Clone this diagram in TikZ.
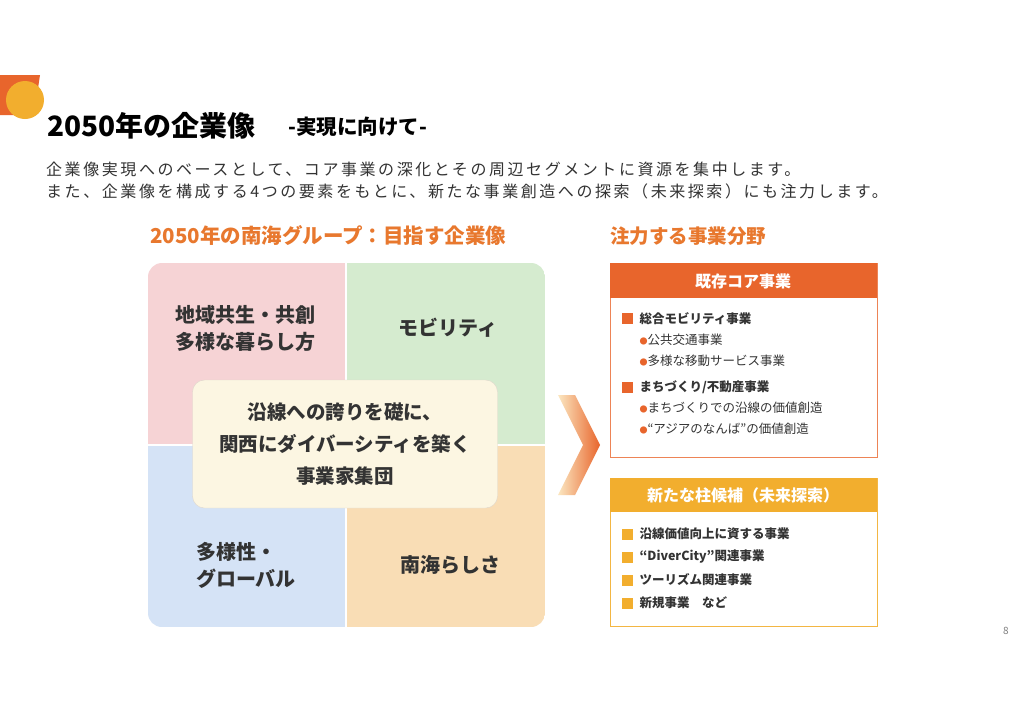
\documentclass[tikz,border=0pt]{standalone}
\usepackage{fontspec}
\setmainfont{Noto Sans CJK JP}
\newfontfamily\cjk{Noto Sans CJK JP}
\usetikzlibrary{shadings}
\definecolor{pk}{HTML}{F6D3D5}
\definecolor{gr}{HTML}{D5EBCF}
\definecolor{bl}{HTML}{D5E3F6}
\definecolor{pe}{HTML}{F9DDB5}
\definecolor{cr}{HTML}{FCF6E2}
\definecolor{or}{HTML}{E8652C}
\definecolor{ye}{HTML}{F2AE2E}
\definecolor{ti}{HTML}{E8782E}
\definecolor{tx}{HTML}{333333}
\tikzset{quad/.style={font=\bfseries\fontsize{20}{27}\selectfont,text=tx,align=center},
 item/.style={anchor=west,font=\fontsize{12.5}{14}\selectfont,text=tx},
 itemb/.style={item,font=\bfseries\fontsize{12.5}{14}\selectfont},
 head/.style={font=\bfseries\fontsize{16}{18}\selectfont,text=white}}
\begin{document}
\begin{tikzpicture}[x=1pt,y=-1pt]
\useasboundingbox (0,0) rectangle (1024,726);
\fill[white] (0,0) rectangle (1024,726);
% logo
\fill[or] (0,75) -- (40,75) -- (34,115) -- (0,115) -- cycle;
\fill[ye] (25,100) circle (19);
\node[anchor=west,font=\bfseries\fontsize{28}{28}\selectfont,inner sep=0] (t1) at (47,126) {2050年の企業像};
\node[anchor=west,font=\bfseries\fontsize{20.5}{20}\selectfont,inner sep=0] (t2) at (288,127) {-実現に向けて-};
\node[anchor=west,font=\fontsize{16}{22}\selectfont\addfontfeature{LetterSpace=16}\selectfont,align=left,text=tx,inner sep=0] (intro) at (46,181) {企業像実現へのベースとして、コア事業の深化とその周辺セグメントに資源を集中します。\\また、企業像を構成する4つの要素をもとに、新たな事業創造への探索（未来探索）にも注力します。};
\node[anchor=west,font=\bfseries\fontsize{20.5}{20}\selectfont,text=ti,inner sep=0] (h1) at (150,236) {2050年の南海グループ：目指す企業像};
\node[anchor=west,font=\bfseries\fontsize{19.5}{20}\selectfont,text=ti,inner sep=0] (h2) at (610,236) {注力する事業分野};
% quadrants
\begin{scope}
\clip[rounded corners=14] (148,263) rectangle (545,627);
\fill[pk] (148,263) rectangle (346,445);
\fill[gr] (346,263) rectangle (545,445);
\fill[bl] (148,445) rectangle (346,627);
\fill[pe] (346,445) rectangle (545,627);
\end{scope}
\draw[white,line width=2] (346,263) -- (346,627) (148,445) -- (545,445);
\node[quad,align=left] (q1) at (245,328) {地域共生・共創\\多様な暮らし方};
\node[quad] (q2) at (448,328) {モビリティ};
\node[quad,align=left] (q3) at (246,565) {多様性・\\グローバル};
\node[quad] (q4) at (450,565) {南海らしさ};
\node[draw=pe!70!black!40,fill=cr,rounded corners=12,minimum width=305,minimum height=128,quad,font=\bfseries\fontsize{19.5}{32}\selectfont] (c) at (345,444) {沿線への誇りを礎に、\\関西にダイバーシティを築く\\事業家集団};
% chevron
\shade[left color=ye!30,right color=or] (558,395) -- (575,395) -- (600,445) -- (575,495) -- (558,495) -- (583,445) -- cycle;
% box 1
\draw[or!80,fill=white] (610,263) rectangle (877,457);
\fill[or] (610,263) rectangle (877,298);
\node[head] (b1) at (743,281) {既存コア事業};
\fill[or] (622,313) rectangle (633,324);
\node[itemb] (i1) at (636,318.5) {総合モビリティ事業};
\node[item] (i2) at (636,340) {\textcolor{or}{\fontsize{8}{8}\selectfont●}公共交通事業};
\node[item] (i3) at (636,361) {\textcolor{or}{\fontsize{8}{8}\selectfont●}多様な移動サービス事業};
\fill[or] (622,382) rectangle (633,393);
\node[itemb] (i4) at (636,387.5) {まちづくり/不動産事業};
\node[item] (i5) at (636,408) {\textcolor{or}{\fontsize{8}{8}\selectfont●}まちづくりでの沿線の価値創造};
\node[item] (i6) at (636,429) {\textcolor{or}{\fontsize{8}{8}\selectfont●}“アジアのなんば”の価値創造};
% box 2
\draw[ye!90,fill=white] (610,478) rectangle (877,626);
\fill[ye] (610,478) rectangle (877,512);
\node[head] (b2) at (743,495) {新たな柱候補（未来探索）};
\foreach \y/\t [count=\k] in {534/沿線価値向上に資する事業,557/“DiverCity”関連事業,580/ツーリズム関連事業,603/新規事業　など}{
 \fill[ye] (622,\y-5.5) rectangle (633,\y+5.5);
 \node[itemb] (j\k) at (636,\y) {\t};
}
\node[text=gray,font=\fontsize{10}{12}\selectfont] (pg) at (1006,631) {8};
\end{tikzpicture}
\end{document}
